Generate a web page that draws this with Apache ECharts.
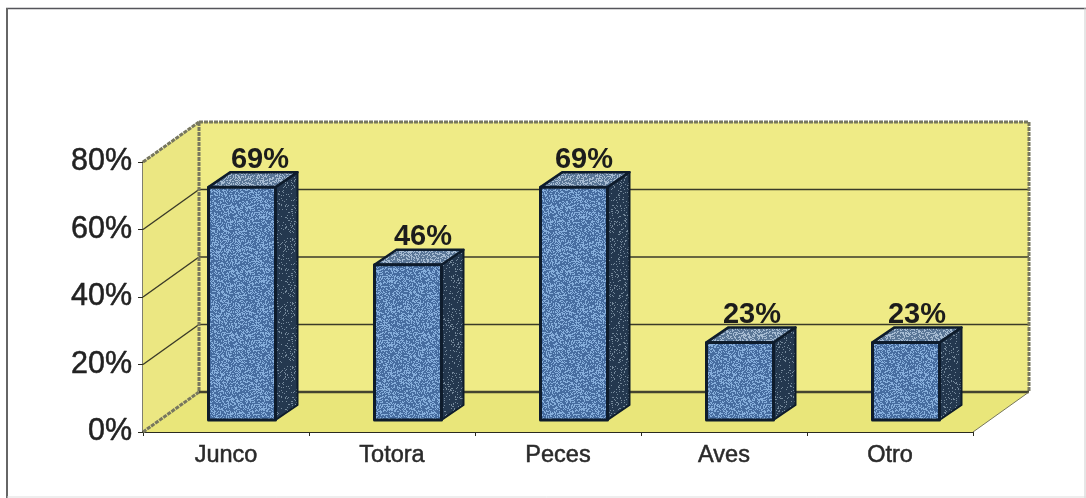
<!DOCTYPE html>
<html>
<head>
<meta charset="UTF-8">
<script src="https://cdn.jsdelivr.net/npm/echarts@6/dist/echarts.min.js"></script>
<title></title>
<style>html,body{margin:0;padding:0;background:#fff}</style>
</head>
<body>
<div id="main" style="width:1086px;height:498px"></div>
<script type="text/javascript">
var categories = ['Junco', 'Totora', 'Peces', 'Aves', 'Otro'];
var values = [69, 46, 69, 23, 23];
var yTicks = [0, 20, 40, 60, 80];

// stippled fill like the scanned bars, fixed dot pattern (not data)
function stipple(base, dot, amount) {
    var c = document.createElement('canvas');
    c.width = 64; c.height = 64;
    var g = c.getContext('2d');
    g.fillStyle = base;
    g.fillRect(0, 0, 64, 64);
    g.fillStyle = dot;
    for (var i = 0; i < 64; i++) {
        for (var j = 0; j < 64; j++) {
            var h = Math.sin(i * 12.9898 + j * 78.233) * 43758.5453;
            if (h - Math.floor(h) < amount) g.fillRect(i, j, 1, 1);
        }
    }
    return {image: c, repeat: 'repeat'};
}
var frontFill = stipple('#466c9f', '#86aedb', 0.4);
var topFill = stipple('#5a7696', '#a6bbd2', 0.4);
var sideFill = stipple('#24384f', '#75899b', 0.12);

var wallDx = 56, wallDy = -40;   // depth of the box
var barDx = 16, barDy = -12;     // bar front face from the floor front edge
var depthDx = 22, depthDy = -15; // bar depth
var barWidth = 67;
var labelShift = [18, 15, 10, 12, 11]; // percent labels sit unevenly over the bars

function poly(points, fill, stroke, width) {
    return {type: 'polygon', shape: {points: points},
        style: {fill: fill, stroke: stroke, lineWidth: width, lineJoin: 'round'}};
}
function line(a, b, color, width, dash) {
    return {type: 'line', shape: {x1: a[0], y1: a[1], x2: b[0], y2: b[1]},
        style: {stroke: color, lineWidth: width, lineDash: dash || null}};
}

function renderBox(params, api) {
    var y0 = api.coord([0, 0])[1];
    var left = params.coordSys.x;
    var right = left + params.coordSys.width;
    var top = api.coord([0, 80])[1];
    var wall = '#efeb86', grid = '#3a3a28', edge = '#77775f';
    var kids = [
        poly([[left + wallDx, top + wallDy], [right + wallDx, top + wallDy], [right + wallDx, y0 + wallDy], [left + wallDx, y0 + wallDy]], wall, 'none', 0),
        poly([[left, top], [left + wallDx, top + wallDy], [left + wallDx, y0 + wallDy], [left, y0]], '#ebe782', 'none', 0),
        poly([[left, y0], [left + wallDx, y0 + wallDy], [right + wallDx, y0 + wallDy], [right, y0]], '#e9e67a', 'none', 0)
    ];
    yTicks.forEach(function (t) {
        var y = api.coord([0, t])[1];
        if (t != 0 && t != 80) {
            kids.push(line([left, y], [left + wallDx, y + wallDy], grid, 1.4));
            kids.push(line([left + wallDx, y + wallDy], [right + wallDx, y + wallDy], grid, 1.4));
        }
    });
    // mottled box edges
    kids.push(line([left + wallDx, top + wallDy], [right + wallDx, top + wallDy], edge, 3, [4, 1]));
    kids.push(line([left + wallDx, top + wallDy], [left + wallDx, y0 + wallDy], edge, 3, [4, 1]));
    kids.push(line([right + wallDx, top + wallDy], [right + wallDx, y0 + wallDy], edge, 3, [4, 1]));
    kids.push(line([left, top], [left + wallDx, top + wallDy], edge, 3, [4, 1]));
    kids.push(line([left, y0], [left + wallDx, y0 + wallDy], edge, 3, [4, 1]));
    kids.push(line([left + wallDx, y0 + wallDy], [right + wallDx, y0 + wallDy], '#44442f', 2.4));
    kids.push(line([right, y0], [right + wallDx, y0 + wallDy], '#77775c', 1));
    return {type: 'group', children: kids};
}

function renderBar(params, api) {
    var base = api.coord([api.value(0), 0]);
    var head = api.coord([api.value(0), api.value(1)]);
    var x1 = base[0] + barDx - barWidth / 2, x2 = x1 + barWidth;
    var yb = base[1] + barDy, yt = head[1] + barDy;
    var edge = '#0e1c2c';
    return {type: 'group', children: [
        {type: 'text', x: (x1 + x2) / 2 + labelShift[params.dataIndex], y: yt + depthDy + 2,
            style: {text: api.value(1) + '%', fill: '#1c1c1c', align: 'center', verticalAlign: 'bottom',
                font: 'bold 29px "Liberation Sans", Arial, sans-serif'}},
        poly([[x2, yt], [x2 + depthDx, yt + depthDy], [x2 + depthDx, yb + depthDy], [x2, yb]], sideFill, edge, 2),
        poly([[x1, yt], [x1 + depthDx, yt + depthDy], [x2 + depthDx, yt + depthDy], [x2, yt]], topFill, edge, 2.5),
        poly([[x1, yt], [x2, yt], [x2, yb], [x1, yb]], frontFill, edge, 3)
    ]};
}

var myChart = echarts.init(document.getElementById('main'));
var option = {
    animation: false,
    backgroundColor: '#ffffff',
    graphic: [
        {type: 'line', shape: {x1: 6, y1: 8.5, x2: 1086, y2: 8.5}, style: {stroke: '#55555a', lineWidth: 1.5}},
        {type: 'line', shape: {x1: 7, y1: 8, x2: 7, y2: 498}, style: {stroke: '#666666', lineWidth: 2}},
        {type: 'line', shape: {x1: 1085, y1: 8, x2: 1085, y2: 498}, style: {stroke: '#cccccc', lineWidth: 1}},
        {type: 'line', shape: {x1: 7, y1: 497, x2: 1086, y2: 497}, style: {stroke: '#dddddd', lineWidth: 1}}
    ],
    grid: {left: 143, right: 113, top: 162, bottom: 66},
    xAxis: {
        type: 'category', data: categories,
        axisLine: {show: true, lineStyle: {color: '#2a2a20', width: 2}},
        axisTick: {show: true, length: 4, lineStyle: {color: '#2a2a20'}},
        axisLabel: {color: '#2a2a2a', fontSize: 23.5, fontFamily: '"Liberation Sans", Arial, sans-serif', margin: 12,
            textBorderColor: '#2a2a2a', textBorderWidth: 0.5}
    },
    yAxis: {
        type: 'value', min: 0, max: 80, interval: 20,
        axisLine: {show: true, lineStyle: {color: '#55553f', width: 2.5}},
        axisTick: {show: true, length: 5, lineStyle: {color: '#2a2a20'}},
        splitLine: {show: false},
        axisLabel: {color: '#222222', fontSize: 30.5, fontFamily: '"Liberation Sans", Arial, sans-serif', margin: 11, formatter: '{value}%',
            textBorderColor: '#222222', textBorderWidth: 0.5}
    },
    series: [{
        type: 'custom', renderItem: renderBox, data: [[0, 0]], silent: true, z: 1, clip: false
    }, {
        type: 'custom', renderItem: renderBar, z: 3, clip: false,
        data: values.map(function (v, i) { return [i, v]; }),
        encode: {x: 0, y: 1}
    }]
};
myChart.setOption(option);
</script>
</body>
</html>
